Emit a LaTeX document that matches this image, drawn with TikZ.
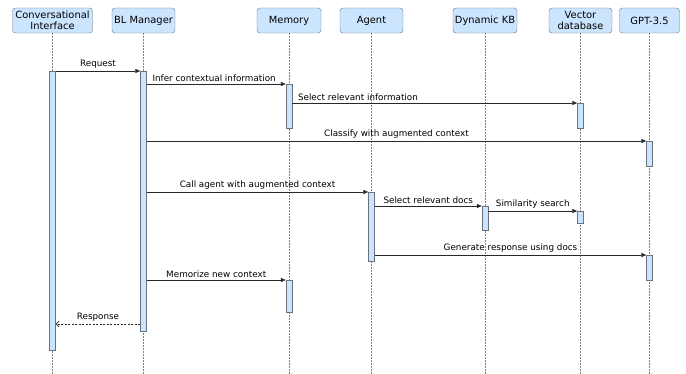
\documentclass[tikz,border=0pt]{standalone}
\usepackage{fontspec}
\setmainfont{DejaVu Sans}
\usetikzlibrary{arrows.meta}

\definecolor{boxfill}{RGB}{204,229,255}
\definecolor{boxline}{RGB}{105,115,128}
\definecolor{msgline}{RGB}{40,40,40}

\tikzset{
  lifebox/.style={draw=boxline,fill=boxfill,rounded corners=3pt,minimum height=25pt,
    inner sep=1pt,align=center,font=\fontsize{9.9}{11}\selectfont},
  actbar/.style={draw=boxline,fill=boxfill,minimum width=6pt,inner sep=0pt,anchor=north},
  lifeline/.style={draw=gray,dash pattern=on 1.5pt off 1.5pt,line width=0.6pt},
  msg/.style={draw=msgline,line width=0.6pt,-{Triangle[length=5pt,width=4pt]}},
  reply/.style={draw=msgline,line width=0.6pt,dash pattern=on 2pt off 1.5pt,
    -{Straight Barb[length=3pt,width=6pt]}},
  lbl/.style={font=\fontsize{8.8}{10}\selectfont,inner sep=2.5pt,text=black}
}

\begin{document}
\begin{tikzpicture}[x=1pt,y=-1pt]
\useasboundingbox (0,0) rectangle (686,374);

\node[lifebox,minimum width=80pt] (ci) at (52.5,20.5) {Conversational\\Interface};
\node[lifebox,minimum width=63pt] (bl) at (143.5,20.5) {BL Manager};
\node[lifebox,minimum width=64pt] (mem) at (289,20.5) {Memory};
\node[lifebox,minimum width=63pt] (ag) at (371.5,20.5) {Agent};
\node[lifebox,minimum width=64pt] (kb) at (485,20.5) {Dynamic KB};
\node[lifebox,minimum width=63pt] (vec) at (580.5,20.5) {Vector\\database};
\node[lifebox,minimum width=60pt] (gpt) at (649.5,20.5) {GPT-3.5};

\foreach \n in {ci,bl,mem,ag,kb,vec,gpt}
  \draw[lifeline] (\n.south) -- (\n.south |- 0,374);

\node[actbar,minimum height=279pt] (aci) at (52.5,71) {};
\node[actbar,minimum height=260pt] (abl) at (143.5,71) {};
\node[actbar,minimum height=44pt] (amem1) at (289,84) {};
\node[actbar,minimum height=25pt] (avec1) at (580.5,103) {};
\node[actbar,minimum height=25pt] (agpt1) at (649.5,141) {};
\node[actbar,minimum height=69pt] (aag) at (371.5,192) {};
\node[actbar,minimum height=24pt] (akb) at (485,206) {};
\node[actbar,minimum height=12pt] (avec2) at (580.5,211) {};
\node[actbar,minimum height=25pt] (agpt2) at (649.5,255) {};
\node[actbar,minimum height=32pt] (amem2) at (289,280) {};
\coordinate (rsp) at (100,324);

\draw[msg] (aci.north east) -- node[lbl,above] {Request} (abl.north west);
\draw[msg] (abl.east |- amem1.north) -- node[lbl,above right,pos=0,xshift=3pt] {Infer contextual information} (amem1.north west);
\draw[msg] (amem1.east |- avec1.north) -- node[lbl,above right,pos=0,xshift=3pt] {Select relevant information} (avec1.north west);
\draw[msg] (abl.east |- agpt1.north) -- node[lbl,above] {Classify with augmented context} (agpt1.north west);
\draw[msg] (abl.east |- aag.north) -- node[lbl,above] {Call agent with augmented context} (aag.north west);
\draw[msg] (aag.east |- akb.north) -- node[lbl,above] {Select relevant docs} (akb.north west);
\draw[msg] (akb.east |- avec2.north) -- node[lbl,above] {Similarity search} (avec2.north west);
\draw[msg] (aag.east |- agpt2.north) -- node[lbl,above] {Generate response using docs} (agpt2.north west);
\draw[msg] (abl.east |- amem2.north) -- node[lbl,above] {Memorize new context} (amem2.north west);
\draw[reply] (abl.west |- rsp) -- node[lbl,above] {Response} (aci.east |- rsp);
\end{tikzpicture}
\end{document}
